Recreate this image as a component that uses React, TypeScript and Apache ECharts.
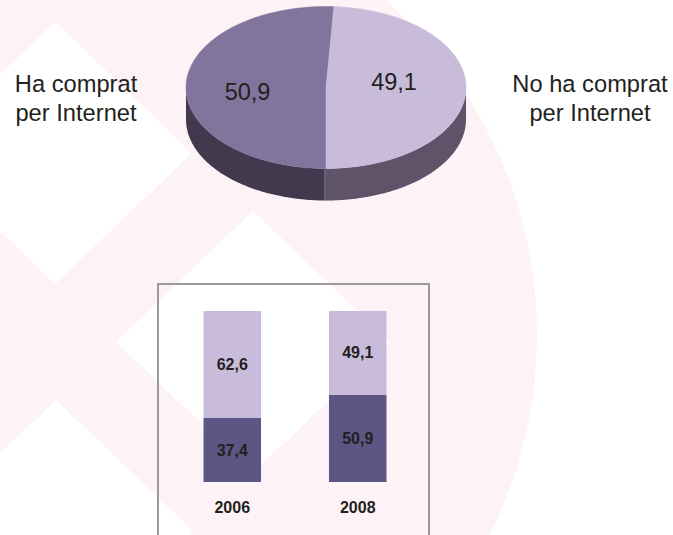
import React, { useEffect, useRef } from "react";
import * as echarts from "echarts";

const pieNames = ["Ha comprat per Internet", "No ha comprat per Internet"];
const pieValues = [50.9, 49.1];
const years = ["2006", "2008"];
const boughtValues = [37.4, 50.9];
const notBoughtValues = [62.6, 49.1];

const PINK = "#fdf3f6";
const TEXT = "#231f20";
const SANS = "'Liberation Sans', Arial, sans-serif";
const comma = (v: number) => v.toFixed(1).replace(".", ",");

const topColors = ["#81749d", "#c9bcdb"];
const sideColors = ["#413a4e", "#5f5269"];
const labelAt = [
  [247.5, 91.5],
  [394, 81.5],
];
const CX = 326;
const CY = 87.5;
const RX = 140;
const RY = 81;
const DEPTH = 32;

// angle in degrees clockwise from the top of the ellipse
const pt = (deg: number, dy = 0) => {
  const a = (deg * Math.PI) / 180;
  return [CX + RX * Math.sin(a), CY - RY * Math.cos(a) + dy];
};

const diamond = (x: number, y: number) => ({
  type: "polygon",
  silent: true,
  shape: { points: [[x, y - 131], [x + 137, y], [x, y + 131], [x - 137, y]] },
  style: { fill: "#ffffff" },
});

const sideLabel = (x: number, y: number, text: string) => ({
  type: "text",
  x,
  y,
  silent: true,
  style: {
    text,
    fill: TEXT,
    font: `23.7px ${SANS}`,
    textAlign: "center",
    textVerticalAlign: "middle",
    lineHeight: 29,
  },
});

const renderSlice = (params: any, api: any) => {
  const i = params.dataIndex;
  const total = pieValues.reduce((a, b) => a + b, 0);
  const value = api.value(0);
  const sweep = (value / total) * 360;
  // the light slice runs from the bottom up the right-hand side; the dark one takes the rest
  const start = i === 1 ? 180 - sweep : 180;
  const end = i === 1 ? 180 : 180 + sweep;
  const top: number[][] = [[CX, CY]];
  for (let d = start; d < end; d += 1) top.push(pt(d));
  top.push(pt(end));

  const visStart = i === 1 ? 90 : 180;
  const visEnd = i === 1 ? 180 : 270;
  const side: number[][] = [];
  for (let d = visStart; d <= visEnd; d += 1) side.push(pt(d));
  for (let d = visEnd; d >= visStart; d -= 1) side.push(pt(d, DEPTH));

  const seam = pt(180);
  return {
    type: "group",
    children: [
      { type: "polygon", shape: { points: side }, style: { fill: sideColors[i] } },
      {
        type: "polygon",
        shape: { points: top },
        style: { fill: topColors[i], stroke: topColors[i], lineWidth: 0.5 },
      },
      ...(i === 1
        ? [
            {
              type: "line",
              shape: { x1: seam[0] - 1, y1: seam[1], x2: seam[0] - 1, y2: seam[1] + DEPTH },
              style: { stroke: "#8d8598", lineWidth: 1 },
            },
          ]
        : []),
      {
        type: "text",
        x: labelAt[i][0],
        y: labelAt[i][1],
        style: {
          text: comma(value),
          fill: TEXT,
          font: `23.5px ${SANS}`,
          textAlign: "center",
          textVerticalAlign: "middle",
        },
      },
    ],
  };
};

const barLabel = {
  show: true,
  position: "inside",
  color: TEXT,
  fontFamily: SANS,
  fontWeight: "bold",
  fontSize: 16,
  formatter: (p: any) => comma(p.value),
};

export default function App() {
  const ref = useRef<HTMLDivElement>(null);
  useEffect(() => {
    document.body.style.margin = "0";
    const chart = echarts.init(ref.current!, null, { renderer: "svg" });
    chart.setOption({
      animation: false,
      backgroundColor: "#ffffff",
      graphic: {
        elements: [
          {
            type: "circle",
            silent: true,
            z: -10,
            shape: { cx: 92, cy: 335, r: 445 },
            style: { fill: PINK },
          },
          { ...diamond(55, 153), z: -9 },
          { ...diamond(253, 342), z: -9 },
          { ...diamond(56, 531), z: -9 },
          {
            type: "rect",
            silent: true,
            z: -8,
            shape: { x: 158, y: 284, width: 271, height: 270 },
            style: { fill: "transparent", stroke: "#9a9a9d", lineWidth: 2 },
          },
          { ...sideLabel(76, 98, "Ha comprat\nper Internet"), z: 5 },
          { ...sideLabel(590, 98, "No ha comprat\nper Internet"), z: 5 },
        ],
      },
      grid: { left: 169.5, width: 251, top: 311, height: 171, containLabel: false },
      xAxis: {
        type: "category",
        data: years,
        axisLine: { show: false },
        axisTick: { show: false },
        axisLabel: {
          margin: 17,
          color: TEXT,
          fontFamily: SANS,
          fontWeight: "bold",
          fontSize: 16,
        },
      },
      yAxis: { type: "value", min: 0, max: 100, show: false, splitLine: { show: false } },
      series: [
        {
          type: "custom",
          name: pieNames.join(" / "),
          coordinateSystem: "none",
          silent: true,
          data: pieValues.map((v, i) => ({ name: pieNames[i], value: [v] })),
          renderItem: renderSlice,
        },
        {
          type: "bar",
          name: pieNames[0],
          stack: "total",
          barWidth: 57.5,
          data: boughtValues,
          itemStyle: { color: "#5d5583" },
          label: barLabel,
        },
        {
          type: "bar",
          name: pieNames[1],
          stack: "total",
          barWidth: 57.5,
          data: notBoughtValues,
          itemStyle: { color: "#c9bcdb" },
          label: barLabel,
        },
      ],
    });
    return () => chart.dispose();
  }, []);
  return <div ref={ref} style={{ width: 673, height: 535 }} />;
}
